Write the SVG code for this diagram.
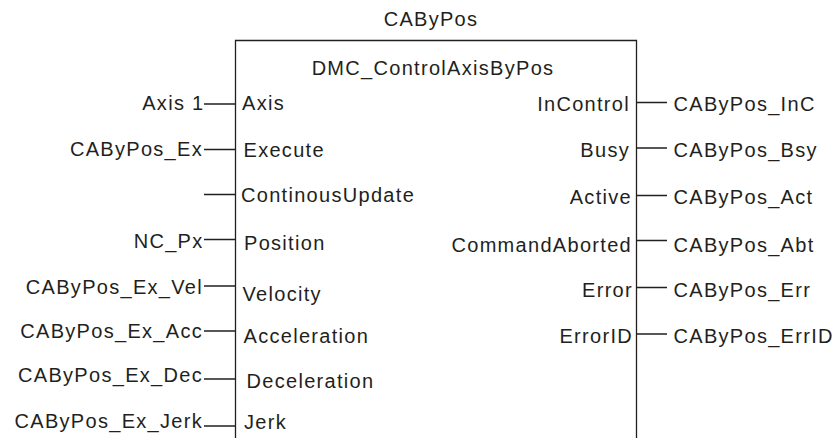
<svg xmlns="http://www.w3.org/2000/svg" width="840" height="438" viewBox="0 0 840 438">
<style>
text{font-family:"Liberation Sans",Arial,sans-serif;font-size:20px;letter-spacing:1.3px;fill:#231f1c}
.e{text-anchor:end}
.m{text-anchor:middle}
.ln{stroke:#231f1c;stroke-width:1.3;fill:none}
</style>
<rect width="840" height="438" fill="#fff"/>
<g id="block">
<text class="m" x="431" y="26">CAByPos</text>
<path class="ln" d="M235.5,438 V40.5 H636.5 V438"/>
<text class="m" x="433" y="75">DMC_ControlAxisByPos</text>
<text x="242" y="110">Axis</text>
<text x="243.5" y="156.5">Execute</text>
<text x="241" y="202">ContinousUpdate</text>
<text x="244" y="250">Position</text>
<text x="242.5" y="300.5">Velocity</text>
<text x="243.5" y="342.5">Acceleration</text>
<text x="246.5" y="387.5">Deceleration</text>
<text x="244" y="428.5">Jerk</text>
<text class="e" x="630" y="110.5">InControl</text>
<text class="e" x="630" y="157">Busy</text>
<text class="e" x="632" y="204">Active</text>
<text class="e" x="632" y="251.5">CommandAborted</text>
<text class="e" x="633" y="296.5">Error</text>
<text class="e" x="633" y="342.5">ErrorID</text>
</g>
<g id="inputs">
<text class="e" x="204.5" y="109.5">Axis 1</text>
<text class="e" x="203" y="155.5">CAByPos_Ex</text>
<text class="e" x="203.5" y="247.5">NC_Px</text>
<text class="e" x="203" y="294">CAByPos_Ex_Vel</text>
<text class="e" x="203" y="337.5">CAByPos_Ex_Acc</text>
<text class="e" x="203" y="381.5">CAByPos_Ex_Dec</text>
<text class="e" x="203" y="428">CAByPos_Ex_Jerk</text>
</g>
<g id="outputs">
<text x="673.5" y="111">CAByPos_InC</text>
<text x="673.5" y="157">CAByPos_Bsy</text>
<text x="673.5" y="204">CAByPos_Act</text>
<text x="673.5" y="251.5">CAByPos_Abt</text>
<text x="673.5" y="296.5">CAByPos_Err</text>
<text x="673.5" y="342.5">CAByPos_ErrID</text>
</g>
<g id="connectors">
<path class="ln" d="M204,104 H235 M204,149.5 H235 M204,194.5 H235 M204,239.5 H235 M204,286 H235 M204,331 H235 M204,379 H235 M204,426 H235"/>
<path class="ln" d="M637,102.5 H667 M637,148 H667 M637,195.5 H667 M637,240.5 H667 M637,287.5 H667 M637,334 H667"/>
</g>
</svg>
